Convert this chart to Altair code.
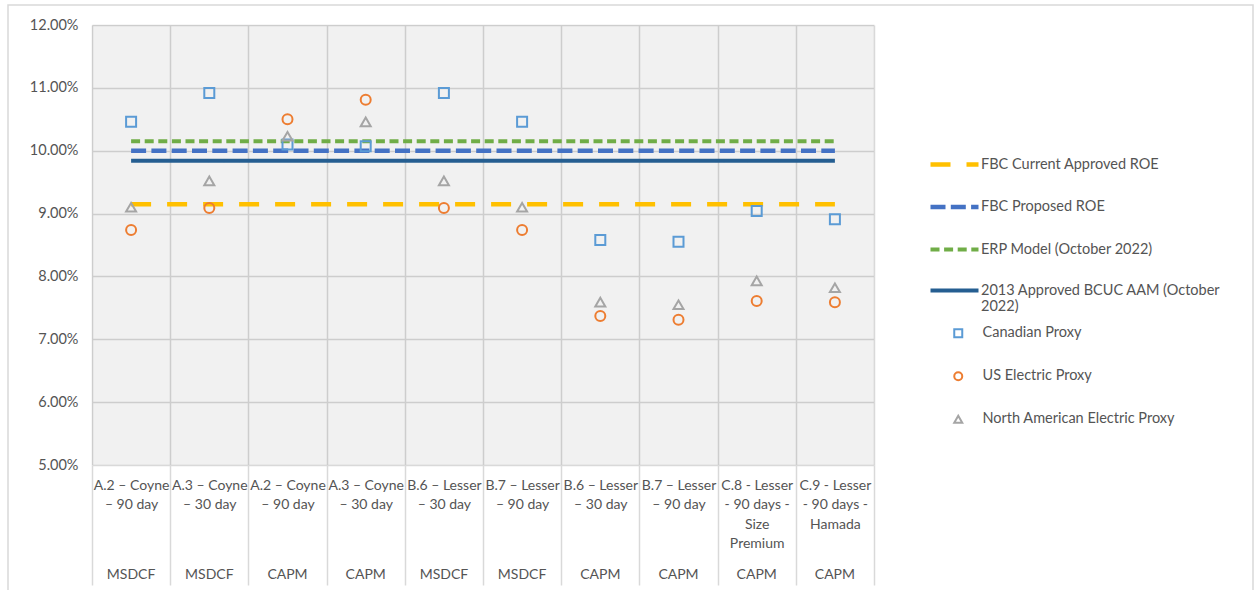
import altair as alt
import pandas as pd

# ---- data -------------------------------------------------------------
estimates = [
    "A.2 – Coyne|– 90 day",
    "A.3 – Coyne|– 30 day",
    "A.2 – Coyne|– 90 day",
    "A.3 – Coyne|– 30 day",
    "B.6 – Lesser|– 30 day",
    "B.7 – Lesser|– 90 day",
    "B.6 – Lesser|– 30 day",
    "B.7 – Lesser|– 90 day",
    "C.8 - Lesser|- 90 days -|Size|Premium",
    "C.9 - Lesser|- 90 days -|Hamada",
]
methods = ["MSDCF", "MSDCF", "CAPM", "CAPM", "MSDCF", "MSDCF", "CAPM", "CAPM", "CAPM", "CAPM"]

proxy_names = ["Canadian Proxy", "US Electric Proxy", "North American Electric Proxy"]
canadian_proxy = [10.46, 10.92, 10.10, 10.07, 10.92, 10.46, 8.58, 8.55, 9.04, 8.91]
us_electric_proxy = [8.74, 9.09, 10.50, 10.81, 9.09, 8.74, 7.37, 7.31, 7.61, 7.59]
na_electric_proxy = [9.10, 9.52, 10.23, 10.46, 9.52, 9.10, 7.59, 7.55, 7.93, 7.82]

benchmark_names = [
    "FBC Current Approved ROE",
    "FBC Proposed ROE",
    "ERP Model (October 2022)",
    "2013 Approved BCUC AAM (October 2022)",
]
benchmark_values = [9.15, 10.00, 10.15, 9.84]

y_ticks = [5, 6, 7, 8, 9, 10, 11, 12]

# ---- styling ----------------------------------------------------------
W, H = 782, 440
FONT = "Lato"
TEXT = "#545454"
GRID = "#d9d9d9"
FS = 14.5

benchmark_colors = ["#FFC000", "#4472C4", "#70AD47", "#255E91"]
benchmark_dashes = [[20, 16], [15, 5.3], [9, 4.6], [1, 0]]
benchmark_widths = [4.5, 4, 3, 3]
proxy_colors = ["#5B9BD5", "#ED7D31", "#A5A5A5"]
proxy_shapes = ["square", "circle", "triangle-up"]

# one category key per column: estimate lines, then the method name
keys = [f"{e}|{m}" for e, m in zip(estimates, methods)]

points = pd.DataFrame(
    [
        {"key": k, "proxy": name, "value": v}
        for name, series in zip(proxy_names, [canadian_proxy, us_electric_proxy, na_electric_proxy])
        for k, v in zip(keys, series)
    ]
)
lines = pd.DataFrame(
    [
        {"key": k, "series": name, "value": v}
        for name, v in zip(benchmark_names, benchmark_values)
        for k in keys
    ]
)

# ---- axes -------------------------------------------------------------
# estimate names, grid and long separator ticks
estimate_axis = alt.Axis(
    title=None,
    orient="bottom",
    labelExpr="slice(split(datum.label, '|'), 0, -1)",
    labelAngle=0,
    labelFont=FONT,
    labelFontSize=14,
    labelColor=TEXT,
    labelLineHeight=19.6,
    labelBaseline="top",
    labelPadding=-107,
    labelLimit=200,
    tickBand="extent",
    tickSize=120,
    tickColor=GRID,
    tickWidth=1.5,
    grid=True,
    gridColor=GRID,
    gridWidth=1.5,
    domain=False,
    zindex=0,
)
# method row at the bottom of each column
method_axis = alt.Axis(
    title=None,
    orient="bottom",
    labelExpr="peek(split(datum.label, '|'))",
    labelAngle=0,
    labelFont=FONT,
    labelFontSize=14,
    labelColor=TEXT,
    labelBaseline="top",
    labelPadding=102,
    ticks=False,
    grid=False,
    domain=False,
    zindex=0,
)
x_scale = alt.Scale(domain=keys, paddingInner=0, paddingOuter=0)

y_axis = alt.Axis(
    title=None,
    values=y_ticks,
    labelExpr="format(datum.value, '.2f') + '%'",
    labelFont=FONT,
    labelFontSize=FS,
    labelColor=TEXT,
    labelPadding=14,
    ticks=False,
    domain=False,
    grid=True,
    gridColor=GRID,
    gridWidth=1.5,
    zindex=0,
)
y_scale = alt.Scale(domain=[5, 12], nice=False, zero=False)


def X(axis):
    return alt.X("key:N", scale=x_scale, axis=axis, sort=keys)


def Y():
    return alt.Y("value:Q", scale=y_scale, axis=y_axis)


one_row = alt.Data(values=[{"a": 1}])

# light grey tint over the plot area, gridlines show through
shade = alt.Chart(one_row).mark_rect(fill="black", fillOpacity=0.055, strokeWidth=0).encode(
    x=alt.value(0), x2=alt.value("width"), y=alt.value(0), y2=alt.value("height")
)

frame = alt.Chart(one_row).mark_rect(fillOpacity=0, stroke=GRID, strokeWidth=1.5).encode(
    x=alt.value(-84), x2=alt.value(1161), y=alt.value(-20), y2=alt.value(580)
)

long_label = benchmark_names[3]
line_legend = alt.Legend(
    title=None,
    orient="none",
    legendX=836,
    legendY=113,
    symbolType="stroke",
    symbolSize=2304,
    labelOffset=0,
    rowPadding=6.5,
    labelFont=FONT,
    labelFontSize=FS,
    labelColor=TEXT,
    labelLimit=400,
    labelBaseline="middle",
    labelExpr=f"datum.label == '{long_label}' ? ['2013 Approved BCUC AAM (October', '2022)'] : datum.label",
)

bench = alt.Chart(lines).mark_line(strokeCap="butt").encode(
    x=X(method_axis),
    y=Y(),
    color=alt.Color(
        "series:N",
        scale=alt.Scale(domain=benchmark_names, range=benchmark_colors),
        legend=line_legend,
        sort=benchmark_names,
    ),
    strokeDash=alt.StrokeDash(
        "series:N",
        scale=alt.Scale(domain=benchmark_names, range=benchmark_dashes),
        legend=line_legend,
        sort=benchmark_names,
    ),
    strokeWidth=alt.StrokeWidth(
        "series:N",
        scale=alt.Scale(domain=benchmark_names, range=benchmark_widths),
        legend=line_legend,
        sort=benchmark_names,
    ),
    detail="series:N",
)

point_legend = alt.Legend(
    title=None,
    orient="none",
    legendX=859,
    legendY=301,
    symbolSize=64,
    symbolStrokeWidth=2,
    labelOffset=17,
    rowPadding=26,
    labelFont=FONT,
    labelFontSize=FS,
    labelColor=TEXT,
    labelLimit=400,
)

proxies = alt.Chart(points).mark_point(filled=False, size=100, strokeWidth=2, opacity=1).encode(
    x=X(estimate_axis),
    y=Y(),
    stroke=alt.Stroke(
        "proxy:N",
        scale=alt.Scale(domain=proxy_names, range=proxy_colors),
        legend=point_legend,
        sort=proxy_names,
    ),
    shape=alt.Shape(
        "proxy:N",
        scale=alt.Scale(domain=proxy_names, range=proxy_shapes),
        legend=point_legend,
        sort=proxy_names,
    ),
)

chart = (
    alt.layer(frame, shade, bench, proxies)
    .resolve_axis(x="independent")
    .properties(
        width=W,
        height=H,
        padding={"left": 92, "top": 25, "right": 382, "bottom": 125},
        autosize=alt.AutoSizeParams(type="none"),
        background="white",
    )
    .configure_view(stroke=None)
)

chart.save("out.html", embed_options={"renderer": "svg", "actions": False})
